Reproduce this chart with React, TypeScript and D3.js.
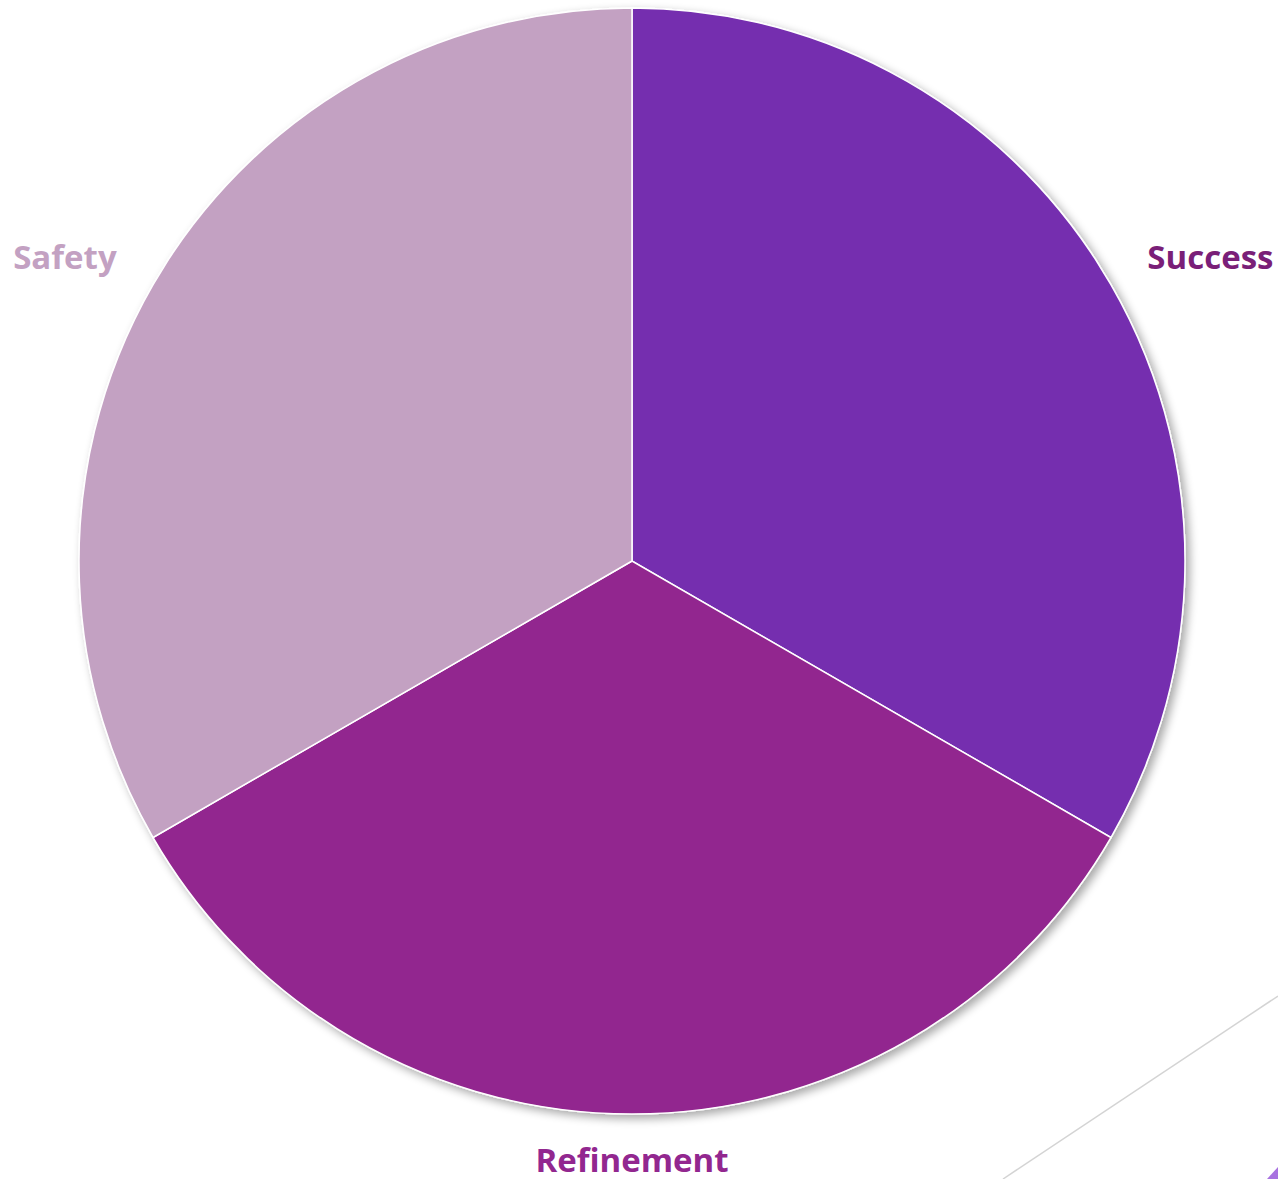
import React from "react";
import * as d3 from "d3";

const categories = ["Success", "Refinement", "Safety"];
const values = [1, 1, 1];
const sliceColors = ["#752EAF", "#92278F", "#C3A1C2"];
const labelColors = ["#7A1F78", "#92278F", "#C3A1C2"];

const W = 1278;
const H = 1179;
const cx = 632;
const cy = 561;
const R = 553;
const labelR = 602;
const labelPadX = 6;

export default function App() {
  const pie = d3.pie<number>().sort(null).value((d) => d);
  const arcs = pie(values);
  const arcGen = d3.arc<d3.PieArcDatum<number>>().innerRadius(0).outerRadius(R);

  return (
    <svg
      width={W}
      height={H}
      style={{ position: "absolute", left: 0, top: 0, background: "#fff" }}
    >
      <defs>
        <filter id="shadow" x="-10%" y="-10%" width="120%" height="120%">
          <feGaussianBlur in="SourceAlpha" stdDeviation="5" />
          <feOffset dx="4" dy="4" result="ob" />
          <feComponentTransfer>
            <feFuncA type="linear" slope="0.35" />
          </feComponentTransfer>
          <feMerge>
            <feMergeNode />
            <feMergeNode in="SourceGraphic" />
          </feMerge>
        </filter>
      </defs>
      <line x1={1278} y1={996} x2={1003} y2={1179} stroke="#d4d4d4" strokeWidth={1.5} />
      <polygon points="1278,1167 1278,1179 1267,1179" fill="#A872E0" />
      <g transform={`translate(${cx},${cy})`} filter="url(#shadow)">
        {arcs.map((a, i) => (
          <path
            key={categories[i]}
            d={arcGen(a) || ""}
            fill={sliceColors[i]}
            stroke="#fff"
            strokeWidth={1.5}
          />
        ))}
      </g>
      <g transform={`translate(${cx},${cy})`}>
        {arcs.map((a, i) => {
          const mid = (a.startAngle + a.endAngle) / 2;
          const rx = Math.sin(mid) * labelR;
          const y = -Math.cos(mid) * labelR;
          const anchor = Math.abs(rx) < 1 ? "middle" : rx > 0 ? "start" : "end";
          const x = Math.abs(rx) < 1 ? rx : rx - Math.sign(rx) * labelPadX;
          return (
            <text
              key={categories[i]}
              x={x}
              y={y}
              textAnchor={anchor}
              dominantBaseline="middle"
              fill={labelColors[i]}
              fontFamily="'Open Sans', 'DejaVu Sans', sans-serif"
              fontWeight={700}
              fontSize={33}
            >
              {categories[i]}
            </text>
          );
        })}
      </g>
    </svg>
  );
}
